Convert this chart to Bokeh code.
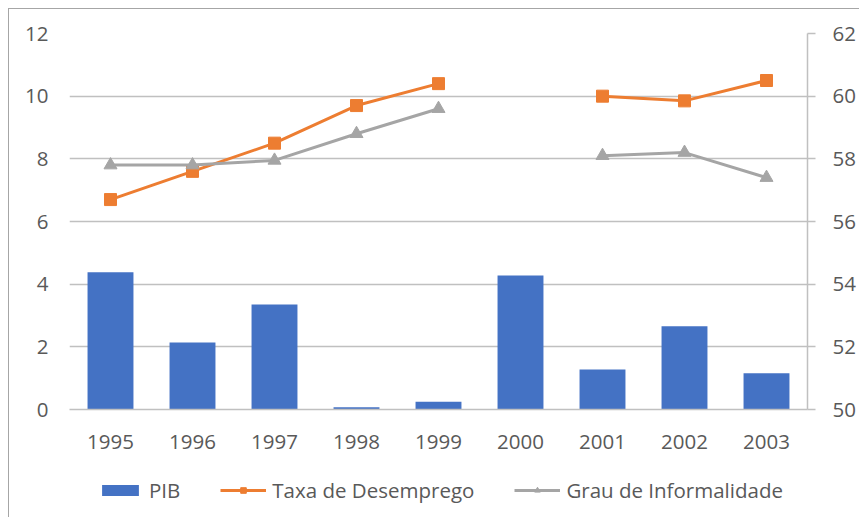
import math
from bokeh.plotting import figure
from bokeh.layouts import column
from bokeh.models import (Range1d, LinearAxis, FixedTicker, Legend, LegendItem,
                          FactorRange, ColumnDataSource)
from bokeh.embed import file_html
from bokeh.resources import INLINE

nan = math.nan

years = ["1995", "1996", "1997", "1998", "1999", "2000", "2001", "2002", "2003"]
pib = [4.38, 2.14, 3.35, 0.07, 0.25, 4.28, 1.28, 2.66, 1.16]
taxa_desemprego = [6.7, 7.6, 8.5, 9.7, 10.4, nan, 10.0, 9.85, 10.5]
grau_informalidade = [57.8, 57.8, 57.95, 58.8, 59.6, nan, 58.1, 58.2, 57.4]
left_ticks = [0, 2, 4, 6, 8, 10, 12]
right_ticks = [50, 52, 54, 56, 58, 60, 62]
series_names = ["PIB", "Taxa de Desemprego", "Grau de Informalidade"]

FONT = "Open Sans"
FS = "20.5px"
TXT = "#595959"
GRID = "#c0c0c0"
BLUE, ORANGE, GRAY = "#4472C4", "#ED7D31", "#A5A5A5"

src = ColumnDataSource(dict(year=years, pib=pib, taxa=taxa_desemprego,
                            inf=grau_informalidade))


def add_series(fig):
    b = fig.vbar(x="year", top="pib", width=0.56, source=src, fill_color=BLUE,
                 line_color=None)
    l1 = fig.line(x="year", y="taxa", source=src, color=ORANGE, line_width=3)
    m1 = fig.scatter(x="year", y="taxa", source=src, marker="square", size=12,
                     color=ORANGE)
    l2 = fig.line(x="year", y="inf", source=src, color=GRAY, line_width=3,
                  y_range_name="right")
    m2 = fig.scatter(x="year", y="inf", source=src, marker="triangle", size=13,
                     color=GRAY, y_range_name="right")
    return b, l1, m1, l2, m2


p = figure(width=850, height=450, x_range=FactorRange(factors=years, range_padding=0),
           y_range=Range1d(0, 12), output_backend="svg", toolbar_location=None,
           min_border_left=60, min_border_right=52, min_border_top=24,
           min_border_bottom=50)
p.outline_line_color = None
p.extra_y_ranges = {"right": Range1d(50, 62)}
add_series(p)

# grids
p.xgrid.grid_line_color = None
p.ygrid.ticker = FixedTicker(ticks=left_ticks)
p.ygrid.grid_line_color = GRID
p.ygrid.grid_line_width = 1.5

# left axis
ya = p.yaxis[0]
ya.ticker = FixedTicker(ticks=left_ticks)
ya.axis_line_color = None
ya.major_tick_line_color = None
ya.minor_tick_line_color = None
ya.major_tick_out = 0
ya.major_label_standoff = 21
ya.major_label_text_font = FONT
ya.major_label_text_font_size = FS
ya.major_label_text_color = TXT

# right axis
ra = LinearAxis(y_range_name="right", ticker=FixedTicker(ticks=right_ticks))
ra.axis_line_color = GRID
ra.axis_line_width = 1.5
ra.major_tick_line_color = GRID
ra.major_tick_line_width = 1.5
ra.major_tick_out = 8
ra.major_tick_in = 0
ra.minor_tick_line_color = None
ra.major_label_standoff = 17
ra.major_label_text_font = FONT
ra.major_label_text_font_size = FS
ra.major_label_text_color = TXT
p.add_layout(ra, "right")

# x axis
xa = p.xaxis[0]
xa.axis_line_color = GRID
xa.axis_line_width = 1.5
xa.major_tick_line_color = None
xa.major_tick_out = 0
xa.major_label_standoff = 25
xa.major_label_text_font = FONT
xa.major_label_text_font_size = FS
xa.major_label_text_color = TXT

# legend strip: same series, ranges chosen so the marks stay out of view,
# only the legend is visible (kept in a separate figure so it is not clipped)
lg = figure(width=850, height=58, x_range=FactorRange(factors=years),
            y_range=Range1d(1000, 1001), output_backend="svg",
            toolbar_location=None, x_axis_location=None, y_axis_location=None,
            min_border=0, min_border_left=0, min_border_right=0,
            min_border_top=0, min_border_bottom=0)
lg.extra_y_ranges = {"right": Range1d(1000, 1001)}
lg.grid.visible = False
lg.outline_line_color = None
rb, r1, r1m, r2, r2m = add_series(lg)

legend = Legend(items=[
    LegendItem(label=series_names[0], renderers=[rb]),
    LegendItem(label=series_names[1], renderers=[r1, r1m]),
    LegendItem(label=series_names[2], renderers=[r2, r2m]),
], orientation="horizontal", location=(28, 13))
legend.border_line_color = None
legend.background_fill_alpha = 0
legend.glyph_width = 46
legend.glyph_height = 14
legend.label_standoff = 6
legend.spacing = 40
legend.margin = 0
legend.padding = 0
legend.label_text_font = FONT
legend.label_text_font_size = FS
legend.label_text_color = TXT
lg.add_layout(legend, "center")

layout = column(p, lg, spacing=0, margin=(8, 0, 0, 8),
                styles={"border-left": "1px solid #a6a6a6",
                        "border-top": "1px solid #a6a6a6"})

open("out.html", "w").write(file_html(layout, INLINE))
